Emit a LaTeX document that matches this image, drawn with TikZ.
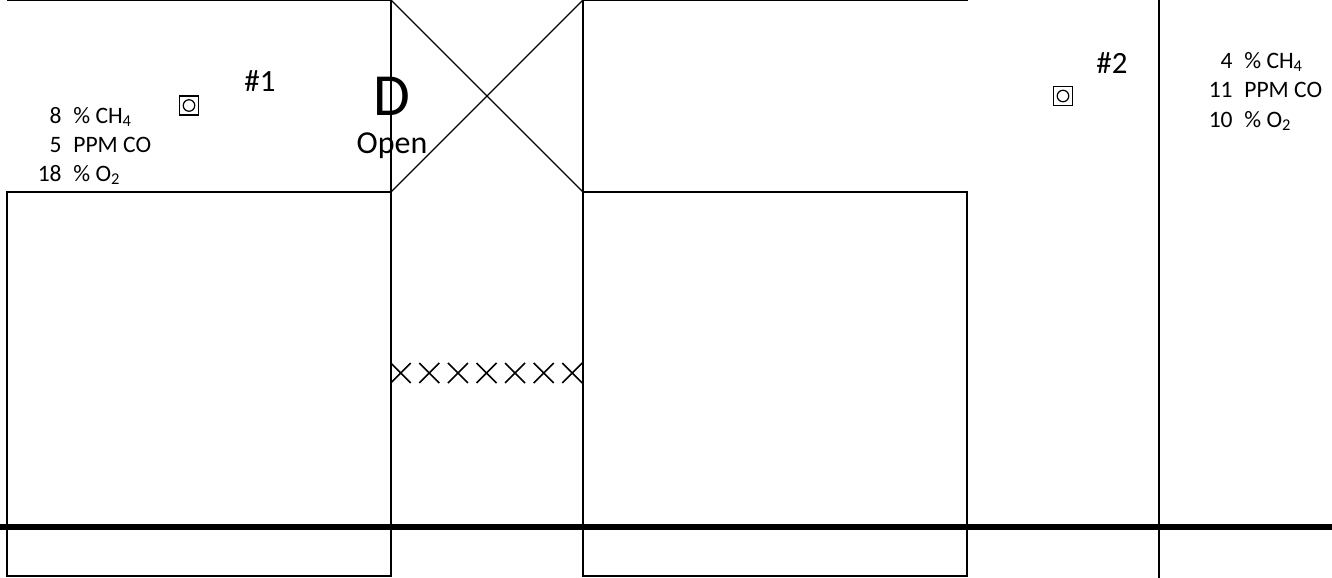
\documentclass[tikz,border=0pt]{standalone}
\usepackage{fontspec}
\setmainfont{Carlito}
\tikzset{
  wall/.style={line width=0.9pt},
  thinline/.style={line width=0.7pt},
  belt/.style={line width=3.4pt},
  gasnum/.style={anchor=base east,inner sep=0pt,font=\fontsize{13.4}{15}\selectfont},
  gastxt/.style={anchor=base west,inner sep=0pt,font=\fontsize{13.4}{15}\selectfont},
  tag/.style={anchor=base,inner sep=0pt,font=\fontsize{17.6}{19}\selectfont}
}
\newcommand{\sensorbox}[2]{%
  \draw[line width=0.8pt] (#1-9.7,#2-9.7) rectangle (#1+9.7,#2+9.7);
  \draw[line width=0.7pt] (#1,#2) circle (0.115cm);
}
\begin{document}
\begin{tikzpicture}[x=0.02cm,y=-0.02cm]
  \useasboundingbox (0,0) rectangle (1332,578);
  % top walls
  \draw[wall] (7,0) -- (391,0) -- (391,192);
  \draw[wall] (583,192) -- (583,0) -- (968,0);
  % lower blocks
  \draw[wall] (7,192) rectangle (391,576);
  \draw[wall] (583,192) rectangle (967,576);
  % door
  \draw[thinline] (391,0) -- (583,192);
  \draw[thinline] (391,192) -- (583,0);
  \node[anchor=base,inner sep=0pt,font=\fontsize{34}{36}\selectfont] (doorD) at (392,115) {D};
  \node[tag,font=\fontsize{18.2}{20}\selectfont] (doorOpen) at (392,153) {Open};
  % row of crosses
  \foreach \i in {0,...,6} {
    \draw[wall] ({400.7+28.6*\i-10},363) -- ({400.7+28.6*\i+10},383);
    \draw[wall] ({400.7+28.6*\i-10},383) -- ({400.7+28.6*\i+10},363);
  }
  % far wall and floor
  \draw[wall] (1159,0) -- (1159,578);
  \draw[belt] (0,527) -- (1332,527);
  % sensors
  \sensorbox{189}{105.5}
  \sensorbox{1063}{96}
  \node[tag] (tagOne) at (260,91.5) {\#1};
  \node[tag] (tagTwo) at (1112,73.5) {\#2};
  % readings at 1
  \node[gasnum] (numA) at (62,123) {8};
  \node[gastxt] (txtA) at (73,123) {\% CH\textsubscript{4}};
  \node[gasnum] (numB) at (62,152) {5};
  \node[gastxt] (txtB) at (73,152) {PPM CO};
  \node[gasnum] (numC) at (62,181) {18};
  \node[gastxt] (txtC) at (73,181) {\% O\textsubscript{2}};
  % readings at 2
  \node[gasnum] (numD) at (1233,68) {4};
  \node[gastxt] (txtD) at (1244,68) {\% CH\textsubscript{4}};
  \node[gasnum] (numE) at (1233,97) {11};
  \node[gastxt] (txtE) at (1244,97) {PPM CO};
  \node[gasnum] (numF) at (1233,127) {10};
  \node[gastxt] (txtF) at (1244,127) {\% O\textsubscript{2}};
\end{tikzpicture}
\end{document}
